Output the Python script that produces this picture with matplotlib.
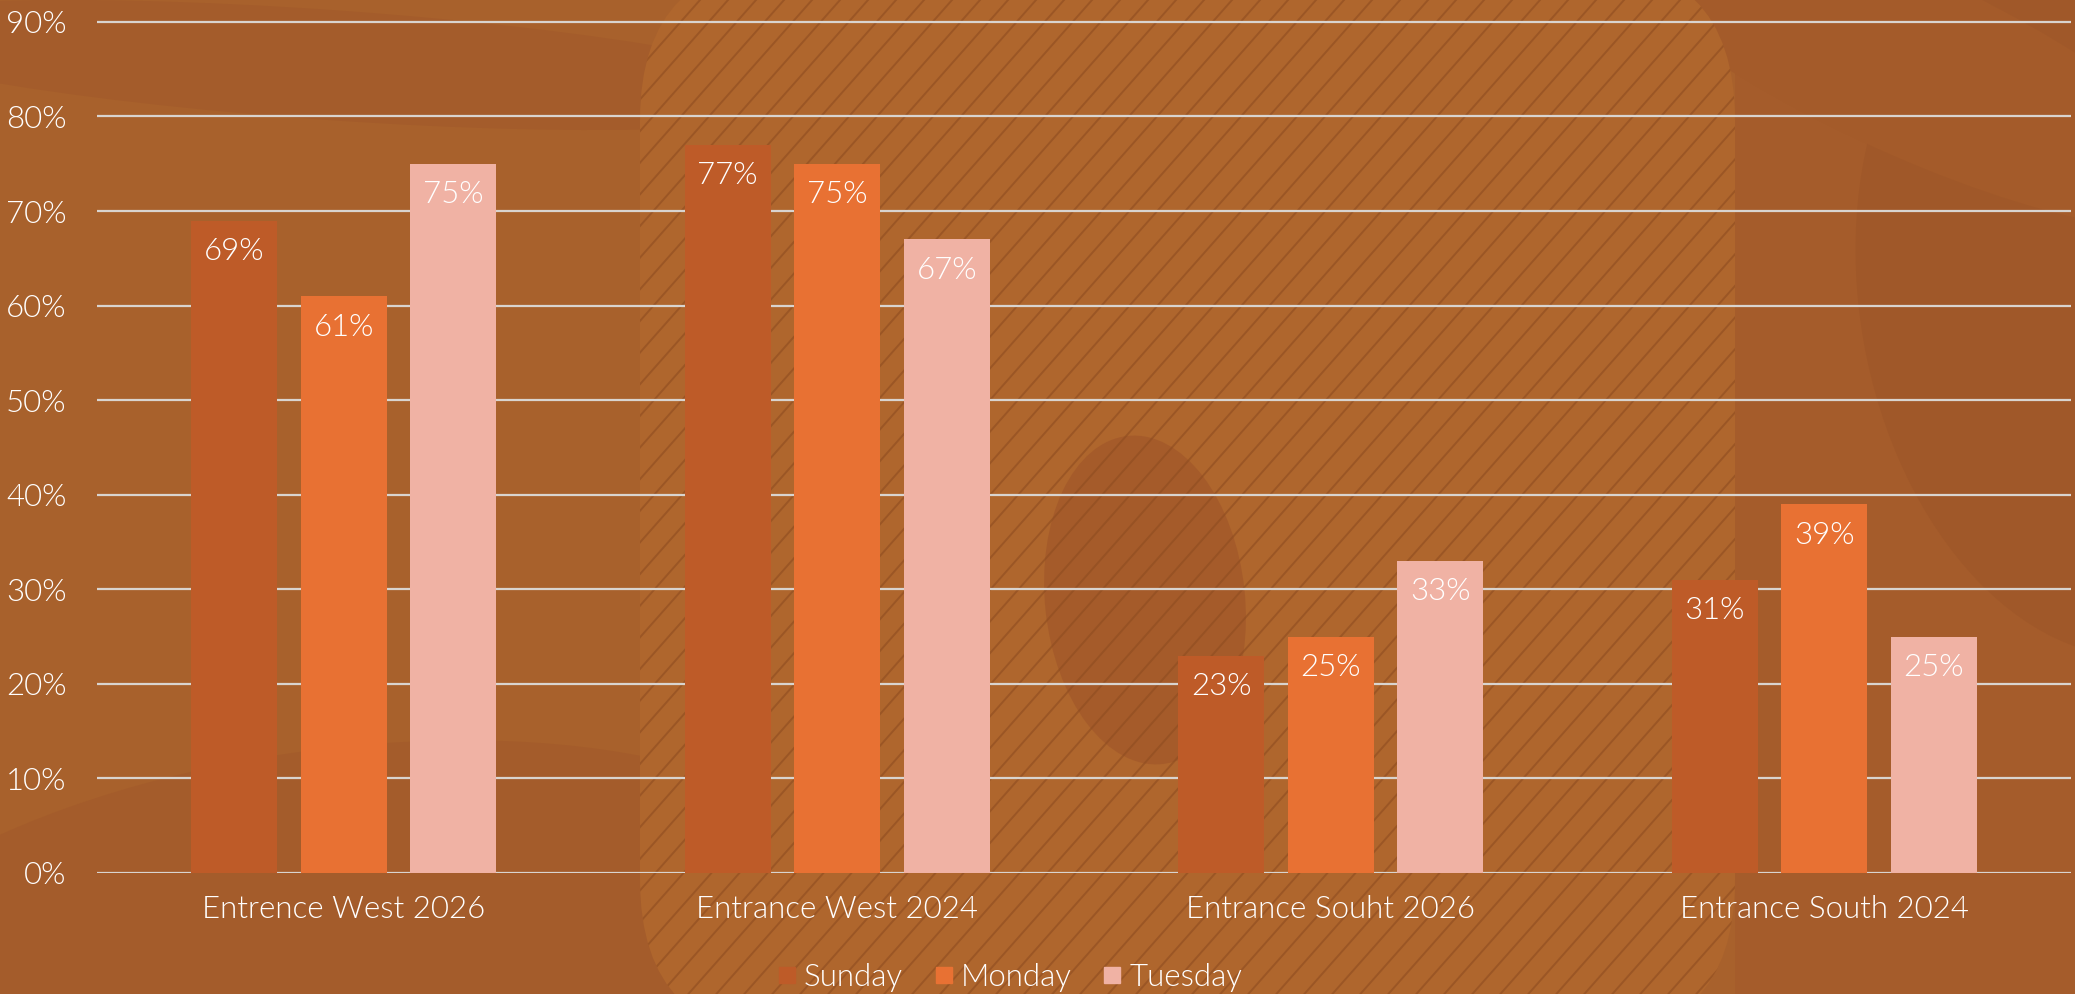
import matplotlib
matplotlib.use('Agg')
import matplotlib.pyplot as plt
import numpy as np
from matplotlib.patches import Ellipse, FancyBboxPatch, Polygon
from matplotlib.lines import Line2D

# chart data
categories = ['Entrence West 2026', 'Entrance West 2024',
              'Entrance Souht 2026', 'Entrance South 2024']
series_names = ['Sunday', 'Monday', 'Tuesday']
sunday = [0.69, 0.77, 0.23, 0.31]
monday = [0.61, 0.75, 0.25, 0.39]
tuesday = [0.75, 0.67, 0.33, 0.25]
y_ticks = [0.0, 0.1, 0.2, 0.3, 0.4, 0.5, 0.6, 0.7, 0.8, 0.9]

bar_colors = ['#BE5B28', '#E87133', '#F0B2A4']
text_color = '#FFFFFF'
base_bg = '#A8612C'
fsize = 22.5

plt.rcParams['font.family'] = ['Lato', 'DejaVu Sans']
plt.rcParams['font.weight'] = 300

W, H = 2075, 994
fig = plt.figure(figsize=(W / 100, H / 100), dpi=100)
fig.patch.set_facecolor(base_bg)

############################################################################
# background decoration (pixel coordinates, y pointing down)              #
############################################################################
bg = fig.add_axes([0, 0, 1, 1], zorder=0)
bg.set_xlim(0, W)
bg.set_ylim(H, 0)
bg.axis('off')
bg.set_facecolor(base_bg)

bg.add_patch(Ellipse((330, 65), 1000, 110, angle=4, color='#A45C2B', lw=0))
bg.add_patch(Ellipse((330, 990), 1100, 480, angle=-8, color='#A45C2B', lw=0))
bg.add_patch(Polygon([(1735, 0), (2075, 0), (2075, 994), (1735, 994)],
                     closed=True, color='#A55C2B', lw=0))
bg.add_patch(Ellipse((2100, 300), 480, 720, angle=-10, color='#A05829', lw=0))
bg.add_patch(Ellipse((1900, 60), 700, 180, angle=25, color='#A45B2A', lw=0))

hatch_zone = FancyBboxPatch((640, -40), 1095, 1080,
                            boxstyle='round,pad=0,rounding_size=160',
                            color='#AF662D', lw=0)
bg.add_patch(hatch_zone)
for c in np.arange(0, 3400, 28):
    xs = np.array([c - 1200, c])
    ys = 1.13 * (c - xs)
    ln, = bg.plot(xs, ys, color='#8E4C20', lw=1.4, alpha=0.6)
    ln.set_clip_path(hatch_zone)

bg.add_patch(Ellipse((1145, 600), 200, 330, angle=-6, color='#A3592A',
                     lw=0, alpha=0.8))

############################################################################
# bar chart                                                                #
############################################################################
ax = fig.add_axes([97 / W, 1 - 873 / H, (2071 - 97) / W, (873 - 17.2) / H],
                  zorder=1)
ax.set_facecolor('none')

index = np.arange(len(categories))
bar_width = 0.174
step = 0.222
for i, (vals, name) in enumerate(zip([sunday, monday, tuesday], series_names)):
    bars = ax.bar(index + (i - 1) * step, vals, width=bar_width,
                  color=bar_colors[i], label=name, zorder=3)
    for b, v in zip(bars, vals):
        ax.annotate('{:.0%}'.format(v),
                    xy=(b.get_x() + b.get_width() / 2, v),
                    xytext=(0, -31), textcoords='offset pixels',
                    ha='center', va='center', fontsize=fsize,
                    color=text_color, zorder=4)

ax.set_xlim(-0.5, len(categories) - 0.5)
ax.set_ylim(0, 0.905)
ax.set_yticks(y_ticks)
ax.set_yticklabels(['{:.0%}'.format(t) for t in y_ticks])
ax.set_xticks(index)
ax.set_xticklabels(categories)
ax.yaxis.grid(True, color='#D9D4CF', lw=1.6, zorder=1)
ax.set_axisbelow(True)
for s in ax.spines.values():
    s.set_visible(False)
ax.tick_params(axis='y', length=0, pad=22, labelsize=fsize,
               labelcolor=text_color)
ax.tick_params(axis='x', length=0, pad=16, labelsize=fsize,
               labelcolor=text_color)

handles = [Line2D([], [], marker='s', ls='none', markersize=11.5,
                  markerfacecolor=c, markeredgecolor=c) for c in bar_colors]
fig.legend(handles, series_names, loc='center',
           bbox_to_anchor=(1010 / W, 1 - 977 / H), ncol=3, frameon=False,
           fontsize=fsize, labelcolor=text_color, handlelength=0.6,
           handletextpad=0.25, columnspacing=1.0)

fig.savefig('out.png', dpi=100, facecolor=fig.get_facecolor())
